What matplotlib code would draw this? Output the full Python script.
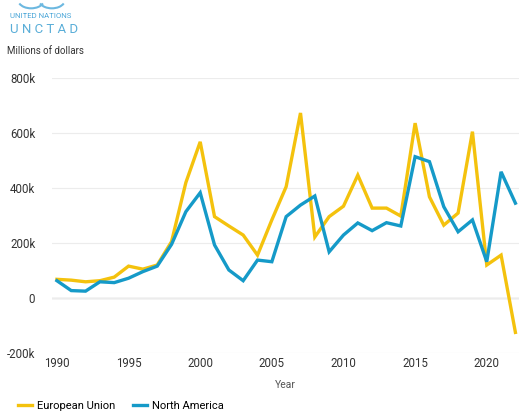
import matplotlib.pyplot as plt
from matplotlib.ticker import FuncFormatter
from matplotlib.patches import Arc

plt.rcParams['font.family'] = ['Roboto', 'DejaVu Sans']

years = list(range(1990, 2023))
eu = [68, 65, 59, 63, 76, 116, 105, 120, 205, 420, 568, 296, 262, 229, 156, 284, 405, 673,
      222, 296, 334, 447, 327, 327, 298, 636, 368, 265, 309, 605, 120, 156, -125]
na = [63, 27, 25, 59, 56, 72, 96, 116, 195, 314, 383, 193, 102, 63, 138, 132, 296, 338,
      371, 168, 229, 273, 245, 274, 262, 514, 496, 332, 241, 284, 132, 459, 345]
eu = [v * 1000 for v in eu]
na = [v * 1000 for v in na]

yellow = '#F4C20D'
blue = '#159AC8'

fig = plt.figure(figsize=(5.19, 4.16), dpi=100)
ax = fig.add_axes([0.100, 0.1514, 0.900, 0.661])

ax.plot(years, eu, color=yellow, lw=2.4, label='European Union', solid_joinstyle='miter', zorder=3)
ax.plot(years, na, color=blue, lw=2.4, label='North America', solid_joinstyle='miter', zorder=3)

ax.set_xlim(1989.65, 2022.25)
ax.set_ylim(-200000, 800000)
ax.set_yticks([-200000, 0, 200000, 400000, 600000, 800000])
ax.set_xticks([1990, 1995, 2000, 2005, 2010, 2015, 2020])
ax.yaxis.set_major_formatter(FuncFormatter(lambda v, p: '0' if v == 0 else f'{int(v/1000)}k'))
ax.grid(axis='y', color='#ececec', lw=0.8)
ax.axhline(0, color='#c8c8c8', lw=1.0, zorder=1)
for s in ax.spines.values():
    s.set_visible(False)
ax.tick_params(length=0, labelsize=8.3, colors='#333333', pad=4)
ax.tick_params(axis='y', pad=12)
ax.tick_params(axis='x', pad=3)
ax.set_xlabel('Year', fontsize=7.5, color='#555555', labelpad=7)

# logo (emblem top is cut off in the original)
for cx, t1, t2 in [(0.06, 200, 340), (0.10, 200, 340)]:
    fig.patches.append(Arc((cx, 1.0), 0.05, 0.04, theta1=t1, theta2=t2,
                           transform=fig.transFigure, color='#6cb8e0', lw=1.5))
fig.text(0.020, 0.962, 'UNITED NATIONS', fontsize=5.6, color='#4aa6d8', va='center')
fig.text(0.020, 0.930, 'U N C T A D', fontsize=9.5, color='#5aaed8', va='center')
fig.text(0.014, 0.878, 'Millions of dollars', fontsize=7, color='#333333', va='center')

fig.legend(loc='lower left', bbox_to_anchor=(0.016, -0.012), ncol=2, frameon=False,
           fontsize=8, handlelength=1.2, handletextpad=0.5, columnspacing=1.6)

fig.savefig('out.png', dpi=100)
